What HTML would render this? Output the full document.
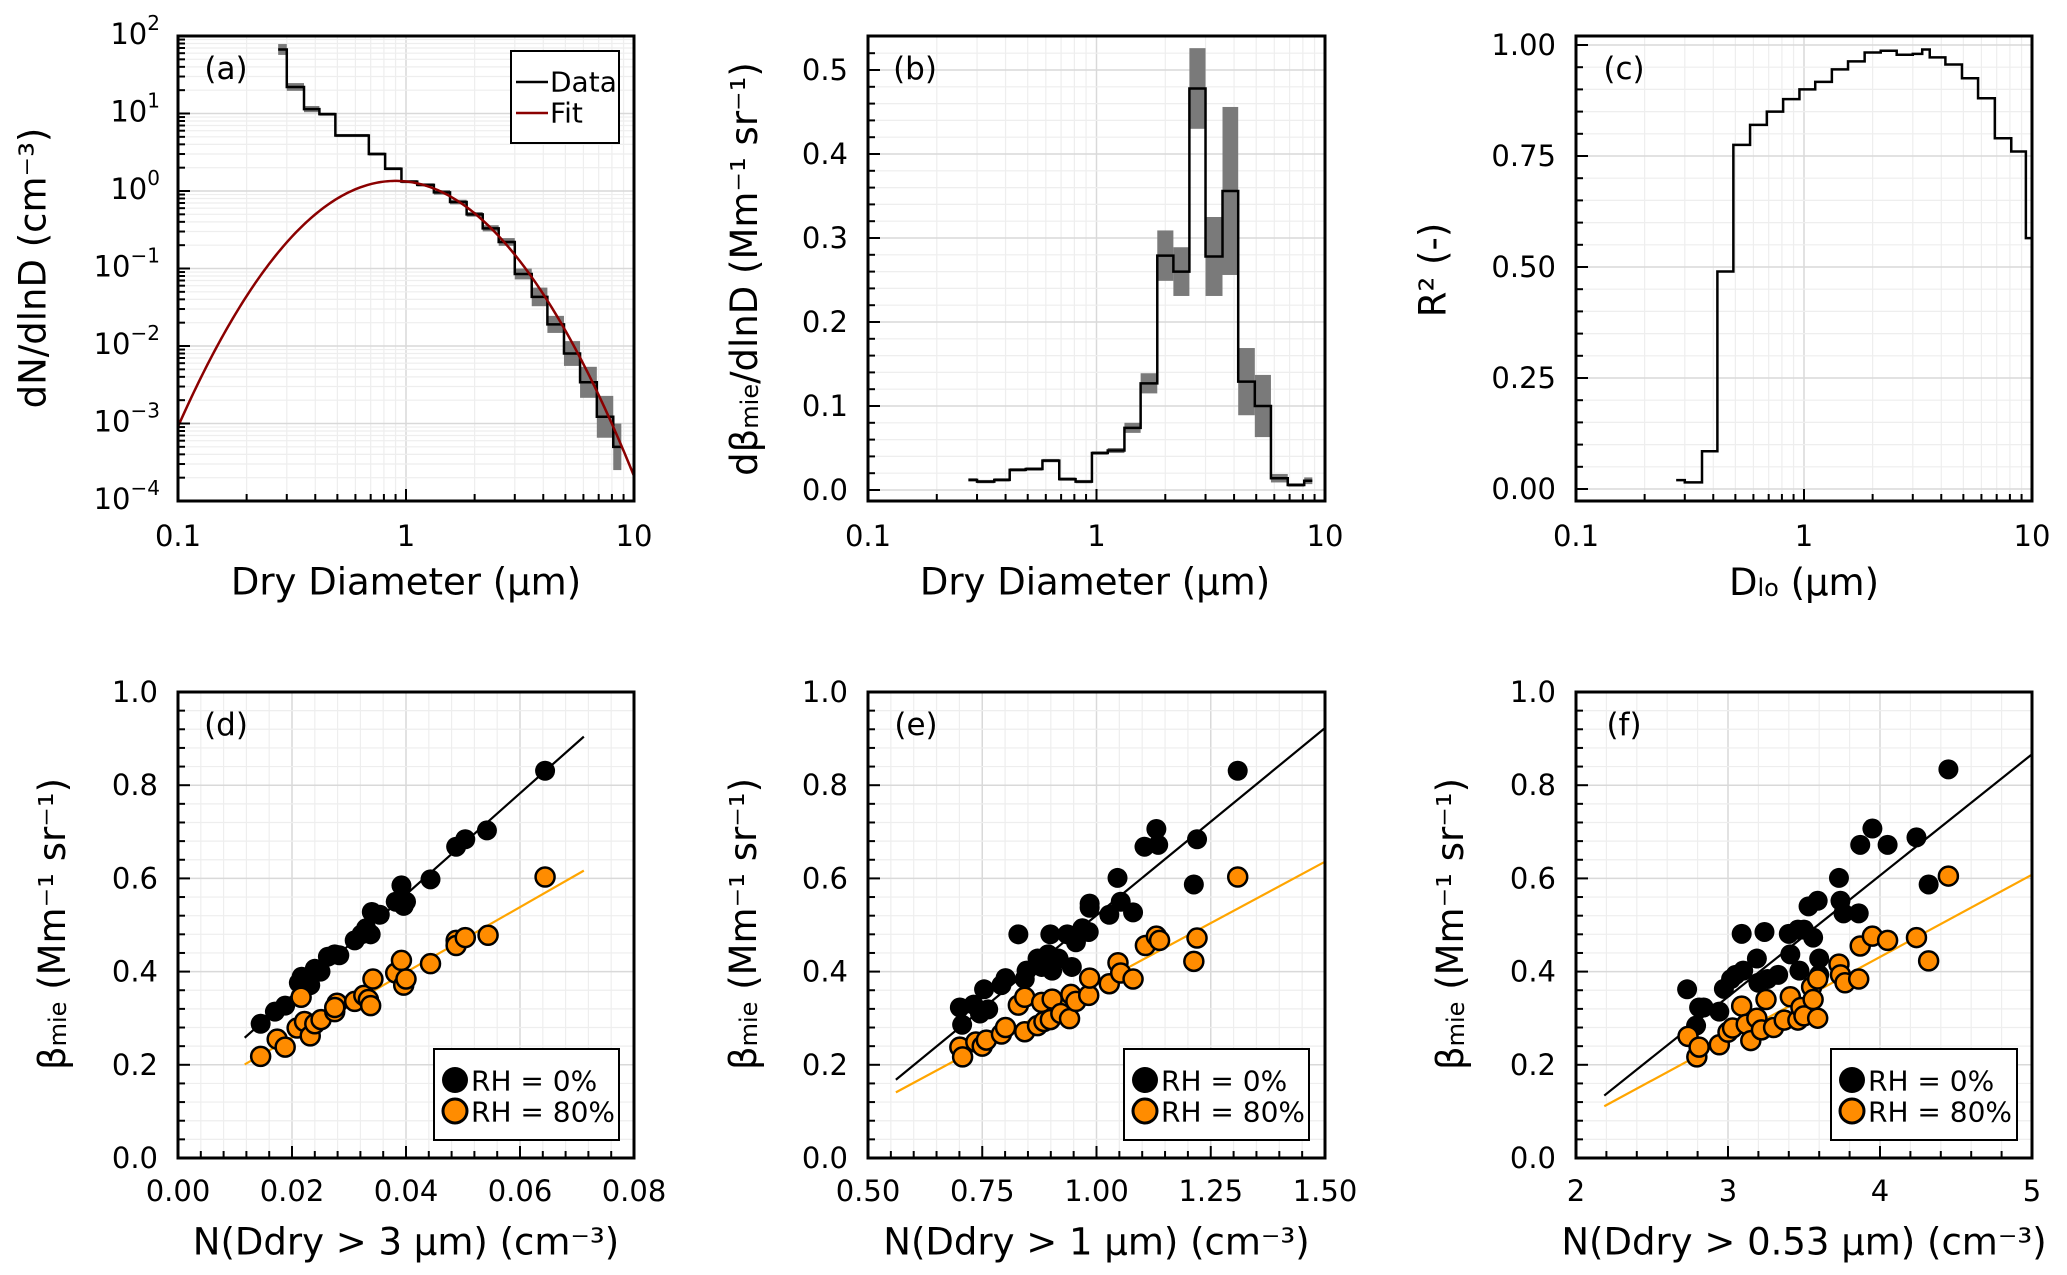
<!DOCTYPE html>
<html><head><meta charset="utf-8"><style>
html,body{margin:0;padding:0;background:#fff;}
svg{display:block;font-family:"DejaVu Sans","Liberation Sans",sans-serif;}
</style></head><body>
<svg id="fig" width="2067" height="1275" viewBox="0 0 2067 1275" xmlns="http://www.w3.org/2000/svg"></svg>
<script>
// ---------- DATA ----------
const binEdges = [0.275,0.30,0.357,0.417,0.49,0.58,0.687,0.81,0.955,1.12,1.325,1.56,1.845,2.17,2.55,3.0,3.56,4.17,4.93,5.8,6.87,8.11,8.8];
const aValues = [67,22,11.4,9.8,5.2,5.2,3.0,1.94,1.32,1.2,0.96,0.72,0.50,0.33,0.22,0.085,0.043,0.019,0.008,0.0034,0.00122,0.0005];
const aErrDec = [0.07,0.05,0.04,0.02,0.02,0.02,0.02,0.02,0.02,0.02,0.03,0.03,0.03,0.04,0.05,0.07,0.12,0.11,0.16,0.2,0.27,0.3];
const fitParams = [1.35,0.9,0.575]; // amplitude, geometric mean diameter, ln sigma
const bValues = [0.012,0.010,0.012,0.024,0.025,0.035,0.013,0.010,0.044,0.047,0.074,0.127,0.279,0.26,0.478,0.278,0.356,0.129,0.10,0.014,0.006,0.011];
const bErr = [0.002,0.002,0.002,0.002,0.002,0.002,0.002,0.002,0.002,0.003,0.006,0.012,0.03,0.029,0.048,0.047,0.1,0.04,0.037,0.005,0.002,0.004];
const cEdges = [0.275,0.30,0.357,0.417,0.49,0.58,0.687,0.81,0.955,1.12,1.325,1.56,1.845,2.17,2.55,3.0,3.3,3.56,4.17,4.93,5.8,6.87,8.11,9.4,10];
const cValues = [0.02,0.015,0.085,0.49,0.775,0.82,0.85,0.878,0.9,0.917,0.945,0.963,0.983,0.987,0.978,0.98,0.99,0.972,0.956,0.925,0.88,0.79,0.76,0.565];

const dBlackX = [0.0145,0.017,0.0188,0.0212,0.0217,0.0228,0.0232,0.024,0.025,0.0263,0.0275,0.0283,0.031,0.0322,0.033,0.0338,0.034,0.0354,0.0382,0.0392,0.0396,0.040,0.0443,0.0488,0.0504,0.0542,0.0644];
const dBlackY = [0.288,0.314,0.327,0.376,0.389,0.384,0.371,0.406,0.4,0.432,0.437,0.435,0.467,0.48,0.493,0.48,0.528,0.522,0.55,0.585,0.541,0.55,0.598,0.668,0.684,0.703,0.831];
const dOrangeX = [0.0145,0.0174,0.0188,0.0216,0.0209,0.0222,0.0232,0.024,0.0251,0.0275,0.0279,0.0275,0.031,0.0326,0.0334,0.0338,0.0342,0.0382,0.0392,0.0396,0.040,0.0443,0.0488,0.0488,0.0504,0.0544,0.0644];
const dOrangeY = [0.218,0.255,0.238,0.345,0.279,0.293,0.262,0.288,0.297,0.314,0.332,0.323,0.336,0.349,0.34,0.327,0.384,0.397,0.424,0.371,0.384,0.417,0.467,0.456,0.473,0.478,0.603];
const dFit = [[10.86,0.131,0.0117,0.0712],[6.99,0.119,0.0117,0.0712]]; // slope, intercept, xmin, xmax

const eBlackX = [0.701,0.706,0.731,0.745,0.754,0.763,0.792,0.801,0.829,0.843,0.847,0.871,0.88,0.894,0.899,0.903,0.917,0.936,0.946,0.955,0.969,0.983,0.985,0.985,1.028,1.046,1.053,1.08,1.105,1.131,1.135,1.213,1.22,1.309];
const eBlackY = [0.323,0.286,0.329,0.31,0.362,0.319,0.371,0.386,0.48,0.384,0.402,0.428,0.41,0.437,0.48,0.402,0.428,0.48,0.41,0.463,0.493,0.485,0.546,0.537,0.522,0.601,0.55,0.527,0.668,0.706,0.672,0.587,0.684,0.831];
const eOrangeX = [0.701,0.707,0.736,0.75,0.759,0.792,0.801,0.829,0.843,0.843,0.871,0.88,0.885,0.899,0.903,0.922,0.941,0.944,0.955,0.983,0.985,1.028,1.047,1.053,1.08,1.107,1.131,1.138,1.213,1.22,1.309];
const eOrangeY = [0.238,0.217,0.249,0.24,0.253,0.266,0.28,0.328,0.345,0.271,0.284,0.334,0.293,0.297,0.341,0.31,0.299,0.351,0.336,0.349,0.386,0.374,0.419,0.397,0.384,0.456,0.476,0.467,0.422,0.472,0.603];
const eFit = [[0.8038,-0.283,0.561,1.5],[0.5272,-0.155,0.561,1.5]];

const fBlackX = [2.731,2.79,2.81,2.84,2.943,2.973,3.02,3.05,3.1,3.09,3.19,3.2,3.24,3.26,3.33,3.4,3.41,3.46,3.47,3.5,3.53,3.56,3.59,3.6,3.6,3.73,3.74,3.76,3.86,3.87,3.95,4.05,4.24,4.32,4.45];
const fBlackY = [0.362,0.284,0.323,0.323,0.314,0.363,0.384,0.393,0.402,0.481,0.428,0.376,0.485,0.384,0.393,0.481,0.437,0.49,0.402,0.49,0.54,0.473,0.552,0.428,0.393,0.601,0.552,0.525,0.525,0.672,0.707,0.672,0.688,0.587,0.834];
const fOrangeX = [2.737,2.795,2.81,2.943,3.0,3.03,3.09,3.12,3.15,3.19,3.22,3.25,3.3,3.37,3.41,3.46,3.48,3.5,3.55,3.56,3.59,3.59,3.73,3.74,3.77,3.86,3.87,3.95,4.05,4.24,4.32,4.45];
const fOrangeY = [0.261,0.217,0.238,0.243,0.27,0.279,0.326,0.287,0.252,0.3,0.275,0.34,0.28,0.296,0.346,0.296,0.323,0.305,0.367,0.34,0.3,0.384,0.416,0.393,0.376,0.384,0.455,0.476,0.467,0.473,0.423,0.605];
const fFit = [[0.2603,-0.435,2.186,5.0],[0.1766,-0.275,2.186,5.0]];

const logTickLabels = ['0.1','1','10'];
const aYExponents = ['2','1','0','−1','−2','−3','−4'];
const bYTicks = ['0.0','0.1','0.2','0.3','0.4','0.5'];
const cYTicks = ['0.00','0.25','0.50','0.75','1.00'];
const betaTicks = ['0.0','0.2','0.4','0.6','0.8','1.0'];
const dXTicks = ['0.00','0.02','0.04','0.06','0.08'];
const eXTicks = ['0.50','0.75','1.00','1.25','1.50'];
const fXTicks = ['2','3','4','5'];

// ---------- HELPERS ----------
const NS='http://www.w3.org/2000/svg';
const svg=document.getElementById('fig');
const TICK=29, TITLE=37;
function mk(tag,attrs,parent){const e=document.createElementNS(NS,tag);for(const k in attrs)e.setAttribute(k,attrs[k]);(parent||svg).appendChild(e);return e;}
function linS(d0,d1,p0,p1){return v=>p0+(v-d0)/(d1-d0)*(p1-p0);}
function logS(d0,d1,p0,p1){return v=>p0+(Math.log10(v)-Math.log10(d0))/(Math.log10(d1)-Math.log10(d0))*(p1-p0);}
const TOP={y0:36,y1:501}, BOT={y0:692,y1:1158};
const COLS=[{x0:178,x1:634},{x0:868,x1:1325},{x0:1576,x1:2032}];

function logPositions(){const r=[];[0.1,1].forEach(b=>{for(let k=1;k<10;k++)r.push({v:b*k,major:k===1});});r.push({v:10,major:true});return r;}
function linPositions(min,max,major,nsub){const r=[];const step=major/nsub;const n=Math.round((max-min)/step);for(let i=0;i<=n;i++){r.push({v:min+i*step,major:i%nsub===0});}return r;}

function drawFrame(g,box,xs,ys,xpos,ypos){
  const grid=mk('g',{},g);
  
  
  xpos.forEach(p=>{const x=xs(p.v);if(x<box.x0-0.5||x>box.x1+0.5)return;mk('line',{x1:x,x2:x,y1:box.y0,y2:box.y1,stroke:p.major?'#d9d9d9':'#eeeeee','stroke-width':p.major?1.5:1.2},grid);});
  ypos.forEach(p=>{const y=ys(p.v);if(y<box.y0-0.5||y>box.y1+0.5)return;mk('line',{x1:box.x0,x2:box.x1,y1:y,y2:y,stroke:p.major?'#d9d9d9':'#eeeeee','stroke-width':p.major?1.5:1.2},grid);});
}
function drawAxes(g,box,xs,ys,xpos,ypos){
  const ax=mk('g',{},g);
  
  
  xpos.forEach(p=>{const x=xs(p.v);if(x<box.x0-0.5||x>box.x1+0.5)return;mk('line',{x1:x,x2:x,y1:box.y1,y2:box.y1-(p.major?12:7),stroke:'#000','stroke-width':2},ax);});
  ypos.forEach(p=>{const y=ys(p.v);if(y<box.y0-0.5||y>box.y1+0.5)return;mk('line',{x1:box.x0,x2:box.x0+(p.major?12:7),y1:y,y2:y,stroke:'#000','stroke-width':2},ax);});
  const r=mk('rect',{x:box.x0,y:box.y0,width:box.x1-box.x0,height:box.y1-box.y0,fill:'none',stroke:'#000','stroke-width':3},ax);
  
  
}
function txt(g,x,y,s,size,anchor,extra){const t=mk('text',Object.assign({x:x,y:y,'font-size':size,'text-anchor':anchor||'middle','dominant-baseline':'central',fill:'#000'},extra||{}),g);t.textContent=s;return t;}
function stepPath(edges,vals,xs,ys){let d='M'+xs(edges[0])+','+ys(vals[0]);for(let i=0;i<vals.length;i++){d+=' H'+xs(edges[i+1]);if(i+1<vals.length)d+=' V'+ys(vals[i+1]);}return d;}

// ---------- PANEL A ----------
(function(){
  const box=Object.assign({},COLS[0],TOP);
  const g=mk('g',{});
  
  
  const xs=logS(0.1,10,box.x0,box.x1), ys=logS(1e-4,1e2,box.y1,box.y0);
  const ypos=[];for(let e=-4;e<2;e++){for(let k=1;k<10;k++)ypos.push({v:k*Math.pow(10,e),major:k===1});}ypos.push({v:100,major:true});
  drawFrame(g,box,xs,ys,logPositions(),ypos);
  const bands=mk('g',{},g);
  
  
  aValues.forEach((v,i)=>{const lo=v*Math.pow(10,-aErrDec[i]),hi=v*Math.pow(10,aErrDec[i]);const r=mk('rect',{x:xs(binEdges[i]),y:ys(hi),width:xs(binEdges[i+1])-xs(binEdges[i]),height:ys(lo)-ys(hi),fill:'#7a7a7a'},bands);});
  const p=mk('path',{d:stepPath(binEdges,aValues,xs,ys),fill:'none',stroke:'#000','stroke-width':2.5},g);
  
  
  let d='';for(let i=0;i<=200;i++){const D=Math.pow(10,-1+2*i/200);const l=Math.log(D/fitParams[1]);const v=fitParams[0]*Math.exp(-l*l/(2*fitParams[2]*fitParams[2]));d+=(i?' L':'M')+xs(D).toFixed(2)+','+ys(v).toFixed(2);}
  const f=mk('path',{d:d,fill:'none',stroke:'#8b0000','stroke-width':2.5},g);
  
  
  drawAxes(g,box,xs,ys,logPositions(),ypos);
  [0.1,1,10].forEach((v,i)=>{const t=txt(g,xs(v),536,logTickLabels[i],TICK);});
  aYExponents.forEach((e,i)=>{const y=ys(Math.pow(10,2-i));const t=mk('text',{x:box.x0-18,y:y+8,'font-size':TICK,'text-anchor':'end',fill:'#000'},g);
    
    const a=mk('tspan',{},t);a.textContent='10';const b=mk('tspan',{dy:-14,'font-size':20},t);b.textContent=e;});
  const lt=txt(g,226,69,'(a)',31,'middle');
  const xt=txt(g,406,582,'Dry Diameter (µm)',TITLE);
  const yt=txt(g,0,0,'dN/dlnD (cm⁻³)',TITLE,'middle',{transform:'translate(33,268) rotate(-90)'});
  const lg=mk('g',{},g);
  mk('rect',{x:511,y:51,width:108,height:92,fill:'#fff',stroke:'#000','stroke-width':2},lg);
  mk('line',{x1:516,x2:548,y1:82,y2:82,stroke:'#000','stroke-width':2.5},lg);
  mk('line',{x1:516,x2:548,y1:113,y2:113,stroke:'#8b0000','stroke-width':2.5},lg);
  const l1=txt(lg,550,82,'Data',28,'start');
  const l2=txt(lg,550,113,'Fit',28,'start');
})();

// ---------- PANEL B ----------
(function(){
  const box=Object.assign({},COLS[1],TOP);
  const g=mk('g',{});
  
  
  const xs=logS(0.1,10,box.x0,box.x1), ys=linS(0,0.5,490,70);
  const ypos=linPositions(0,0.54,0.1,5).filter(p=>p.v<=0.54);
  drawFrame(g,box,xs,ys,logPositions(),ypos);
  bValues.forEach((v,i)=>{const r=mk('rect',{x:xs(binEdges[i]),y:ys(v+bErr[i]),width:xs(binEdges[i+1])-xs(binEdges[i]),height:ys(v-bErr[i])-ys(v+bErr[i]),fill:'#7a7a7a'},g);});
  const p=mk('path',{d:stepPath(binEdges,bValues,xs,ys),fill:'none',stroke:'#000','stroke-width':2.5},g);
  
  
  drawAxes(g,box,xs,ys,logPositions(),ypos);
  [0.1,1,10].forEach((v,i)=>{const t=txt(g,xs(v),536,logTickLabels[i],TICK);});
  bYTicks.forEach((s,i)=>{const t=txt(g,box.x0-20,ys(i*0.1),s,TICK,'end');});
  const lt=txt(g,915,69,'(b)',31);
  const xt=txt(g,1095,582,'Dry Diameter (µm)',TITLE);
  const yt=mk('text',{'font-size':TITLE,'text-anchor':'middle','dominant-baseline':'central',transform:'translate(744,269) rotate(-90)'},g);
  
  const s1=mk('tspan',{},yt);s1.textContent='dβ';const s2=mk('tspan',{'font-size':24,dy:6},yt);s2.textContent='mie';const s3=mk('tspan',{dy:-6},yt);s3.textContent='/dlnD (Mm⁻¹ sr⁻¹)';
})();

// ---------- PANEL C ----------
(function(){
  const box=Object.assign({},COLS[2],TOP);
  const g=mk('g',{});
  
  
  const xs=logS(0.1,10,box.x0,box.x1), ys=linS(0,1,489,45);
  const ypos=linPositions(0,1,0.25,5);
  drawFrame(g,box,xs,ys,logPositions(),ypos);
  const p=mk('path',{d:stepPath(cEdges,cValues,xs,ys),fill:'none',stroke:'#000','stroke-width':2.5},g);
  
  
  drawAxes(g,box,xs,ys,logPositions(),ypos);
  [0.1,1,10].forEach((v,i)=>{const t=txt(g,xs(v),536,logTickLabels[i],TICK);});
  cYTicks.forEach((s,i)=>{const t=txt(g,box.x0-20,ys(i*0.25),s,TICK,'end');});
  const lt=txt(g,1624,69,'(c)',31);
  const xt=mk('text',{x:1804,y:582,'font-size':TITLE,'text-anchor':'middle','dominant-baseline':'central'},g);
  
  const a=mk('tspan',{},xt);a.textContent='D';const b=mk('tspan',{'font-size':24,dy:6},xt);b.textContent='lo';const c=mk('tspan',{dy:-6},xt);c.textContent=' (µm)';
  const yt=txt(g,0,0,'R² (-)',TITLE,'middle',{transform:'translate(1433,270) rotate(-90)'});
})();

// ---------- SCATTER PANELS ----------
function scatterPanel(name,label,col,xmin,xmax,xMajor,xTickLabels,bx,by,ox,oy,fits,xtitle,ytitleX,legendBox){
  const box=Object.assign({},COLS[col],BOT);
  const g=mk('g',{});
  
  
  const xs=linS(xmin,xmax,box.x0,box.x1), ys=linS(0,1,box.y1,box.y0);
  const xpos=linPositions(xmin,xmax,xMajor,5), ypos=linPositions(0,1,0.2,5);
  drawFrame(g,box,xs,ys,xpos,ypos);
  const colors=['#000','#ffa500'];
  fits.forEach((f,i)=>{const l=mk('line',{x1:xs(f[2]),y1:ys(f[0]*f[2]+f[1]),x2:xs(f[3]),y2:ys(f[0]*f[3]+f[1]),stroke:colors[i],'stroke-width':2.2},g);
    });
  const gb=mk('g',{},g);
  bx.forEach((x,i)=>{const c=mk('circle',{cx:xs(x),cy:ys(by[i]),r:10,fill:'#000'},gb);});
  const go=mk('g',{},g);
  ox.forEach((x,i)=>{const c=mk('circle',{cx:xs(x),cy:ys(oy[i]),r:9.5,fill:'#ff8c00',stroke:'#000','stroke-width':2.5},go);});
  drawAxes(g,box,xs,ys,xpos,ypos);
  xTickLabels.forEach((s,i)=>{const t=txt(g,xs(xmin+i*xMajor),1191,s,TICK);});
  betaTicks.forEach((s,i)=>{const t=txt(g,box.x0-20,ys(i*0.2),s,TICK,'end');});
  const lt=txt(g,box.x0+48,725,label,31);
  const xt=txt(g,(box.x0+box.x1)/2,1242,xtitle,TITLE);
  const yt=mk('text',{'font-size':TITLE,'text-anchor':'middle','dominant-baseline':'central',transform:'translate('+ytitleX+',924) rotate(-90)'},g);
  
  const a=mk('tspan',{},yt);a.textContent='β';const b=mk('tspan',{'font-size':24,dy:6},yt);b.textContent='mie';const c=mk('tspan',{dy:-6},yt);c.textContent=' (Mm⁻¹ sr⁻¹)';
  const lg=mk('g',{},g);
  mk('rect',{x:legendBox[0],y:1049,width:legendBox[1]-legendBox[0],height:91,fill:'#fff',stroke:'#000','stroke-width':2},lg);
  mk('circle',{cx:legendBox[0]+21,cy:1080,r:13,fill:'#000'},lg);
  mk('circle',{cx:legendBox[0]+21,cy:1111,r:12,fill:'#ff8c00',stroke:'#000','stroke-width':3},lg);
  const e1=txt(lg,legendBox[0]+37,1081,'RH = 0%',28,'start');
  const e2=txt(lg,legendBox[0]+37,1112,'RH = 80%',28,'start');
}
scatterPanel('panel-d','(d)',0,0,0.08,0.02,dXTicks,dBlackX,dBlackY,dOrangeX,dOrangeY,dFit,'N(Ddry > 3 µm) (cm⁻³)',52,[434,619]);
scatterPanel('panel-e','(e)',1,0.5,1.5,0.25,eXTicks,eBlackX,eBlackY,eOrangeX,eOrangeY,eFit,'N(Ddry > 1 µm) (cm⁻³)',743,[1124,1309]);
scatterPanel('panel-f','(f)',2,2,5,1,fXTicks,fBlackX,fBlackY,fOrangeX,fOrangeY,fFit,'N(Ddry > 0.53 µm) (cm⁻³)',1450,[1831,2017]);
</script>
</body></html>
